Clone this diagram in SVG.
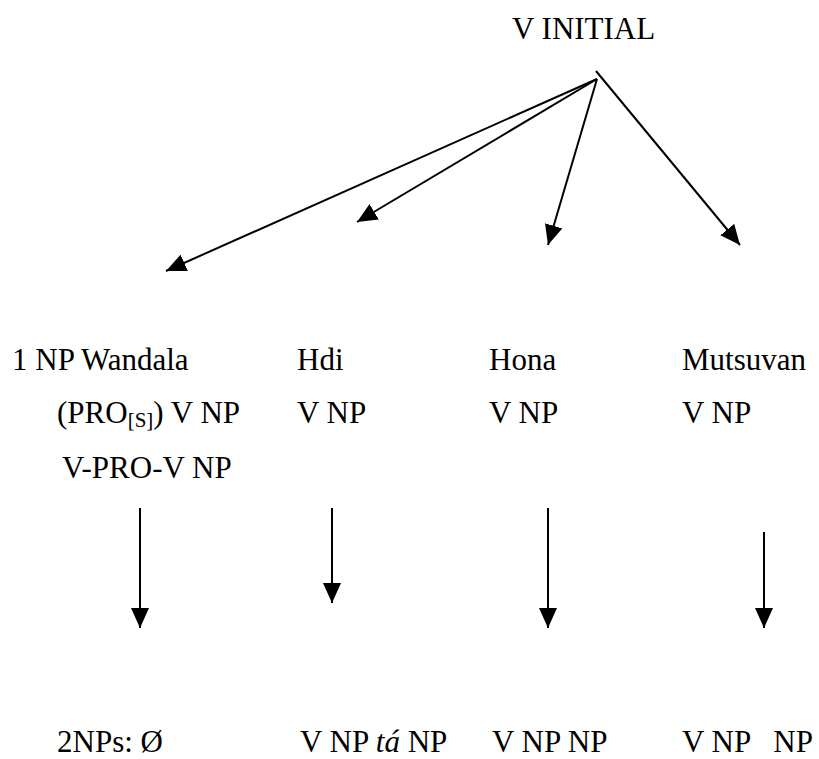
<svg xmlns="http://www.w3.org/2000/svg" width="819" height="759" viewBox="0 0 819 759">
<style>
.t { font-family: 'Liberation Serif', 'Times New Roman', 'DejaVu Serif', serif; font-size: 31px; fill: #000; }
.c line { stroke: #000; stroke-width: 2; fill: none; }
</style>
<defs>
<marker id="ah" viewBox="0 0 20 18" refX="20" refY="9" markerWidth="20" markerHeight="18" markerUnits="userSpaceOnUse" orient="auto">
<path d="M0,0 L20,9 L0,18 z" fill="#000"/>
</marker>
</defs>
<rect width="819" height="759" fill="#fff"/>
<g class="t" font-family="Liberation Serif, serif">
<g id="root"><text x="512" y="39">V INITIAL</text></g>
<g id="wandala">
<text x="12" y="370">1 NP Wandala</text>
<text x="57" y="423">(PRO<tspan font-size="21" dy="4">[S]</tspan><tspan dy="-4">) V NP</tspan></text>
<text x="62" y="478">V-PRO-V NP</text>
</g>
<g id="hdi">
<text x="297" y="370">Hdi</text>
<text x="297" y="423">V NP</text>
</g>
<g id="hona">
<text x="489" y="370">Hona</text>
<text x="489" y="423">V NP</text>
</g>
<g id="mutsuvan">
<text x="682" y="370">Mutsuvan</text>
<text x="682" y="423">V NP</text>
</g>
<g id="wandala2"><text x="57" y="752">2NPs: Ø</text></g>
<g id="hdi2"><text x="300" y="752">V NP <tspan font-style="italic">tá</tspan> NP</text></g>
<g id="hona2"><text x="492" y="752">V NP NP</text></g>
<g id="mutsuvan2"><text x="682" y="752" xml:space="preserve">V NP   NP</text></g>
</g>
<g class="c" id="connectors">
<line x1="597" y1="79" x2="166" y2="271" marker-end="url(#ah)"/>
<line x1="597" y1="79" x2="357" y2="222" marker-end="url(#ah)"/>
<line x1="597" y1="79" x2="548" y2="245" marker-end="url(#ah)"/>
<line x1="596" y1="71" x2="740" y2="245" marker-end="url(#ah)"/>
<line x1="140" y1="508" x2="140" y2="628" marker-end="url(#ah)"/>
<line x1="332" y1="508" x2="332" y2="603" marker-end="url(#ah)"/>
<line x1="548" y1="508" x2="548" y2="628" marker-end="url(#ah)"/>
<line x1="764" y1="532" x2="764" y2="628" marker-end="url(#ah)"/>
</g>
</svg>
